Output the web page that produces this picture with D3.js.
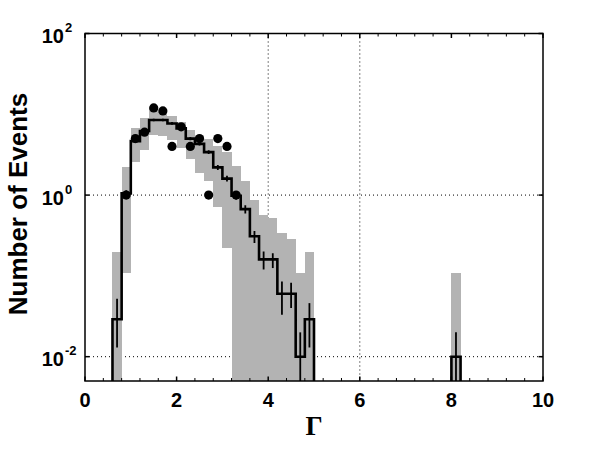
<!DOCTYPE html>
<html>
<head>
<meta charset="utf-8">
<script src="https://cdn.jsdelivr.net/npm/d3@7"></script>
<style>
  body { margin: 0; background: #fff; }
  text { font-family: "Liberation Sans", Arial, sans-serif; font-weight: bold; }
</style>
</head>
<body>
<div id="chart"></div>
<script>
var width = 600, height = 450;
var plot = {left: 85, right: 543, top: 33.5, bottom: 381};

// simulated histogram, bins of 0.2 in Gamma
var binStarts = [0.6, 0.8, 1.0, 1.2, 1.4, 1.6, 1.8, 2.0, 2.2, 2.4, 2.6, 2.8,
                 3.0, 3.2, 3.4, 3.6, 3.8, 4.0, 4.2, 4.4, 4.6, 4.8, 8.0];
var binWidth = 0.2;
var mcValues = [0.029, 1.05, 4.65, 6.2, 8.5, 8.5, 7.7, 6.7, 5.0, 4.3, 3.4, 2.2,
                1.6, 0.98, 0.67, 0.31, 0.16, 0.16, 0.06, 0.06, 0.01, 0.029, 0.01];
var mcErrLo = [0.013, 0.95, 4.43, 5.95, 8.2, 8.2, 7.4, 6.45, 4.78, 4.1, 3.22, 2.05,
               1.47, 0.88, 0.59, 0.255, 0.12, 0.125, 0.033, 0.04, 0, 0.013, 0];
var mcErrHi = [0.052, 1.15, 4.87, 6.45, 8.8, 8.8, 8.0, 6.95, 5.22, 4.5, 3.58, 2.35,
               1.73, 1.08, 0.75, 0.36, 0.2, 0.19, 0.085, 0.082, 0.02, 0.046, 0.02];
// grey band
var bandLo = [0, 0.11, 2.6, 3.6, 5.5, 5.4, 4.8, 3.8, 2.8, 1.9, 1.5, 0.72,
              0.22, 0, 0, 0, 0, 0, 0, 0, 0, 0, 0];
var bandHi = [0.2, 2.2, 6.8, 9.1, 12.0, 10.8, 9.4, 8.0, 6.4, 5.4, 4.9, 4.0,
              3.4, 2.3, 1.5, 0.87, 0.57, 0.52, 0.34, 0.29, 0.11, 0.2, 0.108];

// observed events
var dataX = [0.9, 1.1, 1.3, 1.5, 1.7, 1.9, 2.1, 2.3, 2.5, 2.7, 2.9, 3.1, 3.3];
var dataY = [1, 5, 6, 12, 11, 4, 7, 4, 5, 1, 5, 4, 1];

var xTicks = [0, 2, 4, 6, 8, 10];
var yTicks = [0.01, 1, 100];
var yTickExp = ["-2", "0", "2"];
var xGrid = [4, 6];
var yGrid = [0.01, 1];

var yMin = 0.005;

var svg = d3.select("#chart").append("svg")
  .attr("width", width)
  .attr("height", height);

var x = d3.scaleLinear().domain([0, 10]).range([plot.left, plot.right]);
var y = d3.scaleLog().domain([yMin, 100]).range([plot.bottom, plot.top]);

function yc(v) { return y(Math.max(v, yMin)); }

svg.append("clipPath").attr("id", "clip")
  .append("rect")
    .attr("x", plot.left).attr("y", plot.top)
    .attr("width", plot.right - plot.left)
    .attr("height", plot.bottom - plot.top);

var g = svg.append("g").attr("clip-path", "url(#clip)");

// grid
g.selectAll(".gx").data(xGrid).enter().append("line")
  .attr("x1", x).attr("x2", x)
  .attr("y1", plot.top).attr("y2", plot.bottom)
  .attr("stroke", "#000").attr("stroke-width", 1)
  .attr("stroke-dasharray", "1,3");
g.selectAll(".gy").data(yGrid).enter().append("line")
  .attr("x1", plot.left).attr("x2", plot.right)
  .attr("y1", y).attr("y2", y)
  .attr("stroke", "#000").attr("stroke-width", 1)
  .attr("stroke-dasharray", "1,3");

// grey band
g.selectAll(".band").data(binStarts).enter().append("rect")
  .attr("x", function(d) { return x(d); })
  .attr("width", function(d) { return x(d + binWidth) - x(d); })
  .attr("y", function(d, i) { return yc(bandHi[i]); })
  .attr("height", function(d, i) { return yc(bandLo[i]) - yc(bandHi[i]); })
  .attr("fill", "#b3b3b3")
  .attr("shape-rendering", "crispEdges");

// step line
var pts = [];
binStarts.forEach(function(s, i) {
  var e = s + binWidth;
  var prevJoin = i > 0 && Math.abs(binStarts[i - 1] + binWidth - s) < 1e-6;
  var nextJoin = i < binStarts.length - 1 && Math.abs(e - binStarts[i + 1]) < 1e-6;
  if (!prevJoin) {
    if (i > 0) pts.push(null);
    pts.push([s, 0]);
  }
  pts.push([s, mcValues[i]]);
  pts.push([e, mcValues[i]]);
  if (!nextJoin) pts.push([e, 0]);
});

var line = d3.line()
  .defined(function(d) { return d !== null; })
  .x(function(d) { return x(d[0]); })
  .y(function(d) { return yc(d[1]) + (d[1] === 0 ? 3 : 0); });

g.append("path")
  .datum(pts)
  .attr("d", line)
  .attr("fill", "none")
  .attr("stroke", "#000")
  .attr("stroke-width", 2.6)
  .attr("stroke-linejoin", "miter");

// error bars
g.selectAll(".err").data(binStarts).enter().append("line")
  .attr("x1", function(d) { return x(d + binWidth / 2); })
  .attr("x2", function(d) { return x(d + binWidth / 2); })
  .attr("y1", function(d, i) { return yc(mcErrHi[i]); })
  .attr("y2", function(d, i) { return yc(mcErrLo[i]) + (mcErrLo[i] === 0 ? 3 : 0); })
  .attr("stroke", "#000")
  .attr("stroke-width", 1.8);

// data points
g.selectAll(".dot").data(dataX).enter().append("circle")
  .attr("cx", function(d) { return x(d); })
  .attr("cy", function(d, i) { return y(dataY[i]); })
  .attr("r", 4.6)
  .attr("fill", "#000");

// axes box and ticks
svg.append("rect")
  .attr("x", plot.left).attr("y", plot.top)
  .attr("width", plot.right - plot.left)
  .attr("height", plot.bottom - plot.top)
  .attr("fill", "none")
  .attr("stroke", "#000")
  .attr("stroke-width", 1.5);

var xMinor = d3.range(0, 10.001, 0.4).filter(function(v) {
  return Math.abs(v / 2 - Math.round(v / 2)) > 1e-6;
});

var ticks = svg.append("g").attr("stroke", "#000");
xMinor.forEach(function(v) {
  ticks.append("line").attr("x1", x(v)).attr("x2", x(v))
    .attr("y1", plot.bottom).attr("y2", plot.bottom - 3).attr("stroke-width", 1);
  ticks.append("line").attr("x1", x(v)).attr("x2", x(v))
    .attr("y1", plot.top).attr("y2", plot.top + 3).attr("stroke-width", 1);
});
xTicks.forEach(function(v) {
  ticks.append("line").attr("x1", x(v)).attr("x2", x(v))
    .attr("y1", plot.bottom).attr("y2", plot.bottom - 4.5).attr("stroke-width", 1.5);
  ticks.append("line").attr("x1", x(v)).attr("x2", x(v))
    .attr("y1", plot.top).attr("y2", plot.top + 4.5).attr("stroke-width", 1.5);
});
yTicks.forEach(function(v) {
  ticks.append("line").attr("x1", plot.left).attr("x2", plot.left + 4.5)
    .attr("y1", y(v)).attr("y2", y(v)).attr("stroke-width", 1.5);
  ticks.append("line").attr("x1", plot.right).attr("x2", plot.right - 4.5)
    .attr("y1", y(v)).attr("y2", y(v)).attr("stroke-width", 1.5);
});

// tick labels
svg.selectAll(".xl").data(xTicks).enter().append("text")
  .attr("x", x)
  .attr("y", 407)
  .attr("text-anchor", "middle")
  .attr("font-size", 20)
  .text(function(d) { return d; });

var yl = svg.selectAll(".yl").data(yTicks).enter().append("g")
  .attr("transform", function(d) { return "translate(64," + (y(d) + 9.5) + ")"; });
yl.append("text")
  .attr("text-anchor", "end")
  .attr("font-size", 20)
  .text("10");
yl.append("text")
  .attr("x", 1)
  .attr("y", -11)
  .attr("font-size", 13)
  .text(function(d, i) { return yTickExp[i]; });

// axis titles
svg.append("text")
  .attr("transform", "translate(27,204) rotate(-90)")
  .attr("text-anchor", "middle")
  .attr("font-size", 26)
  .text("Number of Events");

svg.append("text")
  .attr("x", (plot.left + plot.right) / 2)
  .attr("y", 435)
  .attr("text-anchor", "middle")
  .attr("font-size", 27)
  .style("font-family", "'Liberation Serif', 'Times New Roman', serif")
  .text("Γ");
</script>
</body>
</html>
